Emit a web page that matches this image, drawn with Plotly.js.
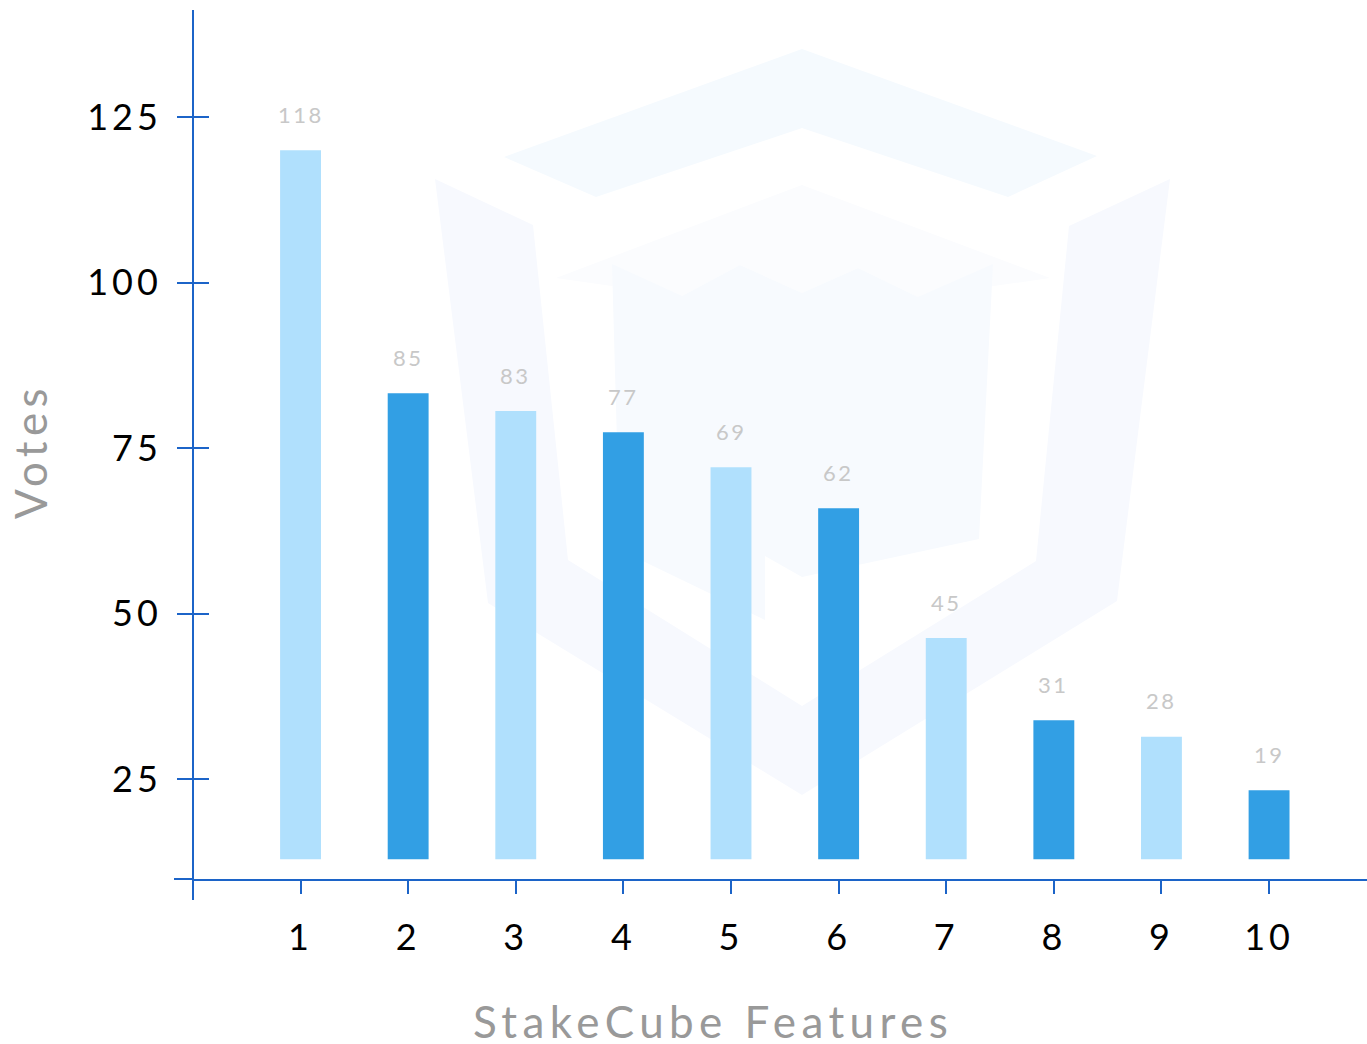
<!DOCTYPE html>
<html>
<head>
<meta charset="utf-8">
<script src="https://cdn.plot.ly/plotly-3.0.1.min.js"></script>
<style>
  html, body { margin: 0; padding: 0; background: #ffffff; }
  #chart { width: 1367px; height: 1044px; }
  text[style*="font-size: 36px"] { letter-spacing: 4px; }
  text[style*="font-size: 44px"] { letter-spacing: 5.4px; }
  text[style*="font-size: 22px"] { letter-spacing: 2.5px; }
</style>
</head>
<body>
<div id="chart"></div>
<script>
// ---- data ----
const features = [1, 2, 3, 4, 5, 6, 7, 8, 9, 10];
const voteLabels = [118, 85, 83, 77, 69, 62, 45, 31, 28, 19];
const barTops = [120.0, 83.3, 80.6, 77.4, 72.1, 65.9, 46.3, 33.9, 31.4, 23.3];
const BAR_BASE = 12.9;
const barColors = ['#b0e0fd', '#329fe4', '#b0e0fd', '#329fe4', '#b0e0fd',
                   '#329fe4', '#b0e0fd', '#329fe4', '#b0e0fd', '#329fe4'];
const yTicks = [25, 50, 75, 100, 125];
const xTitle = 'StakeCube Features';
const yTitle = 'Votes';

// ---- layout geometry ----
const W = 1367, H = 1044;
const M = { l: 194, r: 0, t: 10, b: 165 };
const PW = W - M.l - M.r, PH = H - M.t - M.b;
const AXIS = '#1c64c8';
const FONT = 'Lato, "Open Sans", sans-serif';

function px(x) { return (x - M.l) / PW; }
function py(y) { return (H - M.b - y) / PH; }
function poly(pts) {
  return 'M ' + pts.map(p => px(p[0]).toFixed(5) + ',' + py(p[1]).toFixed(5)).join(' L ') + ' Z';
}

// watermark logo (decoration)
const logoCap = [[802,49],[1097,156],[1008,197],[802,128],[596,197],[504,157]];
const logoU = [[435,179],[533,225],[568,560],[802,706],[1036,561],[1069,226],[1170,179],[1117,601],[802,795],[488,603]];
const logoTop = [[802,185],[1050,278],[918,297],[858,268],[802,293],[740,265],[682,296],[556,278]];
const logoInner = [[612,264],[682,296],[740,265],[802,293],[858,268],[918,297],[993,264],[979,539],[802,577],[765,556],[765,620],[620,550]];

const shapes = [
  { type: 'path', xref: 'paper', yref: 'paper', path: poly(logoU), fillcolor: '#f7f9fe', line: { width: 0 }, layer: 'below' },
  { type: 'path', xref: 'paper', yref: 'paper', path: poly(logoCap), fillcolor: '#f5fafe', line: { width: 0 }, layer: 'below' },
  { type: 'path', xref: 'paper', yref: 'paper', path: poly(logoTop), fillcolor: '#fbfcfe', line: { width: 0 }, layer: 'below' },
  { type: 'path', xref: 'paper', yref: 'paper', path: poly(logoInner), fillcolor: '#f7fafe', line: { width: 0 }, layer: 'below' },
  // axis line extensions
  { type: 'line', xref: 'paper', yref: 'paper', x0: px(174), x1: 0, y0: 0, y1: 0, line: { color: AXIS, width: 2 } },
  { type: 'line', xref: 'paper', yref: 'paper', x0: px(193), x1: px(193), y0: 0, y1: py(900), line: { color: AXIS, width: 2 } }
];

const annotations = features.map((f, i) => ({
  x: f, y: barTops[i], xref: 'x', yref: 'y',
  text: String(voteLabels[i]), showarrow: false,
  yanchor: 'middle', yshift: 36,
  font: { family: FONT, size: 22, color: '#c8c8c8' }
}));
annotations.push({
  x: px(713), y: py(1021), xref: 'paper', yref: 'paper',
  text: xTitle, showarrow: false, xanchor: 'center', yanchor: 'middle',
  font: { family: FONT, size: 44, color: '#999999' }
});
annotations.push({
  x: px(30), y: py(451), xref: 'paper', yref: 'paper',
  text: yTitle, showarrow: false, textangle: -90, xanchor: 'center', yanchor: 'middle',
  font: { family: FONT, size: 44, color: '#999999' }
});

const traces = [
  {
    type: 'bar',
    x: features,
    y: barTops.map(t => t - BAR_BASE),
    base: BAR_BASE,
    width: 0.38,
    marker: { color: barColors, line: { width: 0 } },
    hoverinfo: 'skip',
    showlegend: false
  },
  { type: 'scatter', x: [], y: [], yaxis: 'y2', showlegend: false, hoverinfo: 'skip' }
];

const layout = {
  width: W, height: H,
  margin: M,
  paper_bgcolor: '#ffffff',
  plot_bgcolor: 'rgba(0,0,0,0)',
  showlegend: false,
  font: { family: FONT },
  xaxis: {
    range: [0.01, 10.91],
    tickvals: features,
    ticktext: features.map(String),
    ticks: 'outside', ticklen: 13, tickwidth: 2, tickcolor: AXIS,
    showline: true, linecolor: AXIS, linewidth: 2,
    showgrid: false, zeroline: false,
    tickfont: { family: FONT, size: 36, color: '#000000' },
    ticklabelstandoff: 13,
    fixedrange: true
  },
  yaxis: {
    range: [9.9, 141.2],
    tickvals: yTicks,
    ticktext: yTicks.map(String),
    ticks: 'outside', ticklen: 15, tickwidth: 2, tickcolor: AXIS,
    showline: true, linecolor: AXIS, linewidth: 2,
    showgrid: false, zeroline: false,
    tickfont: { family: FONT, size: 36, color: '#000000' },
    ticklabelstandoff: 8,
    fixedrange: true
  },
  yaxis2: {
    overlaying: 'y', side: 'left', anchor: 'x',
    range: [9.9, 141.2],
    tickvals: yTicks,
    ticks: 'inside', ticklen: 15, tickwidth: 2, tickcolor: AXIS,
    showticklabels: false, showline: false, showgrid: false, zeroline: false,
    fixedrange: true
  },
  shapes: shapes,
  annotations: annotations
};

Plotly.newPlot('chart', traces, layout, { displayModeBar: false, staticPlot: true });
</script>
</body>
</html>
